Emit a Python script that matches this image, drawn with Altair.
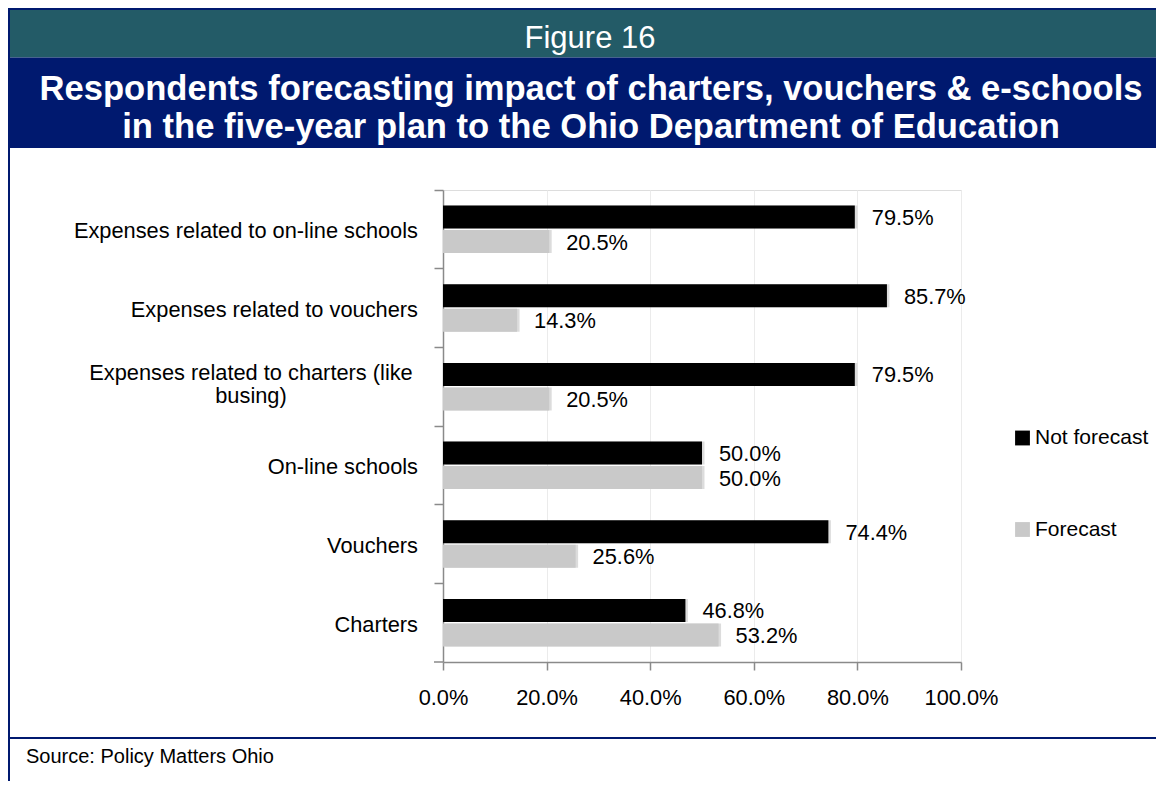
import altair as alt
import pandas as pd

# ---------------- data ----------------
categories = [
    "Expenses related to on-line schools",
    "Expenses related to vouchers",
    "Expenses related to charters (like|busing)",
    "On-line schools",
    "Vouchers",
    "Charters",
]
series = ["Not forecast", "Forecast"]
not_forecast = [79.5, 85.7, 79.5, 50.0, 74.4, 46.8]
forecast = [20.5, 14.3, 20.5, 50.0, 25.6, 53.2]
x_ticks = [0.0, 0.2, 0.4, 0.6, 0.8, 1.0]

FIG_LABEL = "Figure 16"
TITLE_1 = "Respondents forecasting impact of charters, vouchers & e-schools"
TITLE_2 = "in the five-year plan to the Ohio Department of Education"
SOURCE = "Source: Policy Matters Ohio"

rows = []
for c, a, b in zip(categories, not_forecast, forecast):
    rows.append({"cat": c, "series": series[0], "share": a / 100})
    rows.append({"cat": c, "series": series[1], "share": b / 100})
df = pd.DataFrame(rows)
cat_df = pd.DataFrame({"cat": categories})
one = pd.DataFrame({"k": [0]})

FONT = "Liberation Sans"
TEAL = "#235b67"
NAVY = "#00196f"
AXIS_GRAY = "#8a8a8a"
FS = 21.8
W, H = 518, 472
PAD = {"left": 435, "top": 182, "right": 195, "bottom": 119}

y_enc = alt.Y(
    "cat:N",
    sort=categories,
    scale=alt.Scale(paddingInner=0, paddingOuter=0),
    axis=alt.Axis(
        title=None, labels=False, grid=False, domain=True,
        domainColor=AXIS_GRAY, domainWidth=1.5,
        ticks=True, tickColor=AXIS_GRAY, tickWidth=1.5, tickSize=9,
        bandPosition=0,
    ),
)
y_plain = alt.Y("cat:N", sort=categories)
yoff_scale = alt.Scale(paddingInner=0.061, paddingOuter=0.636)
yoff = alt.YOffset("series:N", sort=series, scale=yoff_scale)
x_enc = alt.X(
    "share:Q",
    scale=alt.Scale(domain=[0, 1], nice=False),
    axis=alt.Axis(
        title=None, values=x_ticks, format=".1%",
        grid=True, gridColor="#ebebeb", gridWidth=1,
        domainColor=AXIS_GRAY, domainWidth=1.5,
        tickColor=AXIS_GRAY, tickWidth=1.5, tickSize=8,
        labelFont=FONT, labelFontSize=FS, labelColor="black",
        labelPadding=17, labelFlush=False, labelOverlap=False,
    ),
)

shadow = alt.Chart(df).mark_bar(
    color="#9a9a9a", opacity=0.35, xOffset=2.5, yOffset=2.5
).encode(
    x=x_enc, y=y_enc, yOffset=alt.YOffset("series:N", sort=series)
)

bars = alt.Chart(df).mark_bar().encode(
    x=x_enc,
    y=y_enc,
    yOffset=yoff,
    color=alt.Color(
        "series:N", sort=series,
        scale=alt.Scale(domain=series, range=["#000000", "#c9c9c9"]),
        legend=alt.Legend(
            title=None, orient="none", legendX=569, legendY=237.5,
            direction="vertical", symbolType="square", symbolSize=220,
            symbolStrokeWidth=0, labelFont=FONT, labelFontSize=21,
            labelColor="black", rowPadding=69.5, padding=0, labelOffset=2,
        ),
    ),
)

vals = alt.Chart(df).transform_calculate(
    lbl="format(datum.share, '.1%')"
).mark_text(
    align="left", baseline="middle", dx=17, dy=1,
    font=FONT, fontSize=FS, color="black",
).encode(x="share:Q", y=y_plain, yOffset=alt.YOffset("series:N", sort=series), text="lbl:N")

ylab1 = alt.Chart(cat_df).transform_filter(
    "indexof(datum.cat, '|') < 0"
).mark_text(
    align="right", baseline="middle", dy=2, font=FONT, fontSize=FS, color="black",
).encode(x=alt.value(-25), y=y_plain, text="cat:N")

ylab2 = alt.Chart(cat_df).transform_filter(
    "indexof(datum.cat, '|') >= 0"
).mark_text(
    align="center", baseline="middle", dy=-13.5, lineBreak="|", lineHeight=23,
    font=FONT, fontSize=FS, color="black",
).encode(x=alt.value(-192), y=y_plain, text="cat:N")


def rect(color, x, x2, y, y2):
    return alt.Chart(one).mark_rect(color=color).encode(
        x=alt.value(x), x2=alt.value(x2), y=alt.value(y), y2=alt.value(y2)
    )


def label(txt, x, y, size, bold=False, color="white", align="center"):
    return alt.Chart(one).mark_text(
        align=align, baseline="alphabetic", font=FONT, fontSize=size,
        fontWeight="bold" if bold else "normal", color=color,
    ).encode(x=alt.value(x), y=alt.value(y), text=alt.value(txt))


teal = rect(TEAL, -433, 713, -180, -132.5)
navy = rect(NAVY, -433, 713, -132.5, -42)
border_top = rect(NAVY, -435, 713, -182, -180)
border_left = rect(NAVY, -435, -433, -182, 591)
separator = rect(NAVY, -435, 713, 547, 549)

fig = label(FIG_LABEL, 147, -141.7, 31)
t1 = label(TITLE_1, 148, -90, 34.6, bold=True)
t2 = label(TITLE_2, 148, -52, 34.6, bold=True)
src = label(SOURCE, -417, 573.3, 20, color="black", align="left")

corner_tick = alt.Chart(one).mark_rule(color=AXIS_GRAY, strokeWidth=1.5).encode(
    x=alt.value(-9), x2=alt.value(0), y=alt.value(H)
)

chart = alt.layer(
    teal, navy, border_top, border_left, separator,
    fig, t1, t2, src,
    shadow, bars, vals, ylab1, ylab2, corner_tick,
).properties(
    width=W, height=H, padding=PAD,
    autosize=alt.AutoSizeParams(type="none"),
).configure_view(stroke=None).configure(background="white")

chart.save("out.html", embed_options={"renderer": "svg", "actions": False})
